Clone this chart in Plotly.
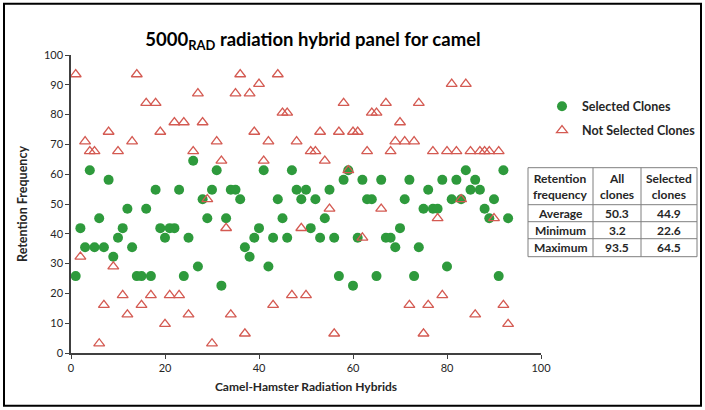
import plotly.graph_objects as go

# ---------------- data ----------------
hybrids = list(range(1, 94))

selected = [25.8, 41.9, 35.5, 61.3, 35.5, 45.2, 35.5, 58.1, 32.3, 38.7,
            41.9, 48.4, 35.5, 25.8, 25.8, 48.4, 25.8, 54.8, 41.9, 38.7,
            41.9, 41.9, 54.8, 25.8, 38.7, 64.5, 29.0, 51.6, 45.2, 54.8,
            61.3, 22.6, 45.2, 54.8, 54.8, 51.6, 35.5, 32.3, 38.7, 41.9,
            61.3, 29.0, 38.7, 51.6, 45.2, 38.7, 61.3, 54.8, 51.6, 54.8,
            41.9, 51.6, 38.7, 45.2, 54.8, 38.7, 25.8, 58.1, 61.3, 22.6,
            38.7, 58.1, 51.6, 51.6, 25.8, 58.1, 38.7, 38.7, 35.5, 41.9,
            51.6, 58.1, 25.8, 35.5, 48.4, 54.8, 48.4, 48.4, 58.1, 29.0,
            51.6, 58.1, 51.6, 61.3, 54.8, 58.1, 54.8, 48.4, 45.2, 51.6,
            25.8, 61.3, 45.2]

not_selected = [93.5, 32.3, 71.0, 67.7, 67.7, 3.2, 16.1, 74.2, 29.0, 67.7,
                19.4, 12.9, 71.0, 93.5, 16.1, 83.9, 19.4, 83.9, 74.2, 9.7,
                19.4, 77.4, 19.4, 77.4, 12.9, 67.7, 87.1, 77.4, 51.6, 3.2,
                71.0, 64.5, 41.9, 12.9, 87.1, 93.5, 6.5, 87.1, 74.2, 90.3,
                64.5, 71.0, 16.1, 93.5, 80.6, 80.6, 19.4, 71.0, 41.9, 19.4,
                67.7, 67.7, 74.2, 64.5, 48.4, 6.5, 74.2, 83.9, 61.3, 74.2,
                74.2, 38.7, 67.7, 80.6, 80.6, 48.4, 83.9, 67.7, 71.0, 77.4,
                71.0, 16.1, 71.0, 83.9, 6.5, 16.1, 67.7, 45.2, 19.4, 67.7,
                90.3, 67.7, 51.6, 90.3, 67.7, 12.9, 67.7, 67.7, 67.7, 45.2,
                67.7, 16.1, 9.7]

x_ticks = [0, 20, 40, 60, 80, 100]
y_ticks = [0, 10, 20, 30, 40, 50, 60, 70, 80, 90, 100]

table_header = ["Retention<br>frequency", "All<br>clones", "Selected<br>clones"]
table_labels = ["Average", "Minimum", "Maximum"]
table_all = ["50.3", "3.2", "93.5"]
table_selected = ["44.9", "22.6", "64.5"]

# ---------------- layout helpers ----------------
W, H = 705, 410
L, R, T, B = 71, 541, 55.3, 353.3
FONT = "Lato"
TXT = "#262626"
GREEN = "#2E9A3C"
RED = "#D45A52"


def px(x):
    return (x - L) / (R - L)


def py(y):
    return (B - y) / (B - T)


fig = go.Figure()
fig.add_trace(go.Scatter(
    x=hybrids, y=selected, mode="markers", name="<b>Selected Clones</b>",
    marker=dict(symbol="circle", size=10, color=GREEN, line=dict(width=0)),
    legend="legend", showlegend=True))
fig.add_trace(go.Scatter(
    x=hybrids, y=not_selected, mode="markers", name="<b>Not Selected Clones</b>",
    marker=dict(symbol="triangle-up-open", size=9.5, color=RED, line=dict(width=1.3, color=RED)),
    legend="legend2", showlegend=True))

shapes = []
annotations = []

# table grid
col_x = [528, 593, 641, 697]
row_y = [168, 205, 222, 239, 257]
for cx in col_x:
    shapes.append(dict(type="line", xref="paper", yref="paper",
                       x0=px(cx), x1=px(cx), y0=py(row_y[0]), y1=py(row_y[-1]),
                       line=dict(color="#7f7f7f", width=1)))
for ry in row_y:
    shapes.append(dict(type="line", xref="paper", yref="paper",
                       x0=px(col_x[0]), x1=px(col_x[-1]), y0=py(ry), y1=py(ry),
                       line=dict(color="#7f7f7f", width=1)))

col_c = [(col_x[i] + col_x[i + 1]) / 2 for i in range(3)]
for i, h in enumerate(table_header):
    annotations.append(dict(text="<b>" + h + "</b>", xref="paper", yref="paper",
                            x=px(col_c[i]), y=py((row_y[0] + row_y[1]) / 2),
                            showarrow=False, font=dict(family=FONT, size=12, color=TXT),
                            xanchor="center", yanchor="middle"))
for r in range(3):
    yc = py((row_y[r + 1] + row_y[r + 2]) / 2)
    for i, v in enumerate([table_labels[r], table_all[r], table_selected[r]]):
        annotations.append(dict(text="<b>" + v + "</b>", xref="paper", yref="paper",
                                x=px(col_c[i]), y=yc, showarrow=False,
                                font=dict(family=FONT, size=12, color=TXT),
                                xanchor="center", yanchor="middle"))

# outer frame of the image
shapes.append(dict(type="rect", xref="paper", yref="paper",
                   x0=px(4), x1=px(701), y0=py(406), y1=py(4),
                   line=dict(color="black", width=2), fillcolor="rgba(0,0,0,0)"))

fig.update_layout(
    width=W, height=H,
    margin=dict(l=L, r=W - R, t=T, b=H - B, autoexpand=False),
    paper_bgcolor="white", plot_bgcolor="white",
    showlegend=True,
    font=dict(family=FONT, color=TXT),
    title=dict(text="<b>5000<sub>RAD</sub> radiation hybrid panel for camel</b>",
               x=313 / W, xanchor="center", y=1 - 40 / H, yanchor="middle",
               font=dict(family=FONT, size=18.5, color="black")),
    xaxis=dict(range=[0, 100], tickvals=x_ticks, showgrid=False, zeroline=False,
               showline=True, linecolor="#404040", linewidth=1.5,
               ticks="outside", ticklen=4, tickcolor="#404040",
               tickfont=dict(family=FONT, size=11, color=TXT),
               title=dict(text="<b>Camel-Hamster Radiation Hybrids</b>", standoff=10,
                          font=dict(family=FONT, size=12, color=TXT))),
    yaxis=dict(range=[0, 100], tickvals=y_ticks, showgrid=False, zeroline=False,
               showline=True, linecolor="#404040", linewidth=1.5,
               ticks="outside", ticklen=4, tickcolor="#404040",
               tickfont=dict(family=FONT, size=11, color=TXT),
               title=dict(text="<b>Retention Frequency</b>", standoff=14,
                          font=dict(family=FONT, size=12.5, color=TXT))),
    legend=dict(x=px(542), y=py(107), xanchor="left", yanchor="middle",
                font=dict(family=FONT, size=12.5, color=TXT), bgcolor="rgba(0,0,0,0)"),
    legend2=dict(x=px(542), y=py(131), xanchor="left", yanchor="middle",
                 font=dict(family=FONT, size=12.5, color=TXT), bgcolor="rgba(0,0,0,0)"),
    shapes=shapes, annotations=annotations,
)

fig.write_html("out.html", config={"displayModeBar": False},
               post_script="document.body.style.margin='0px';")
